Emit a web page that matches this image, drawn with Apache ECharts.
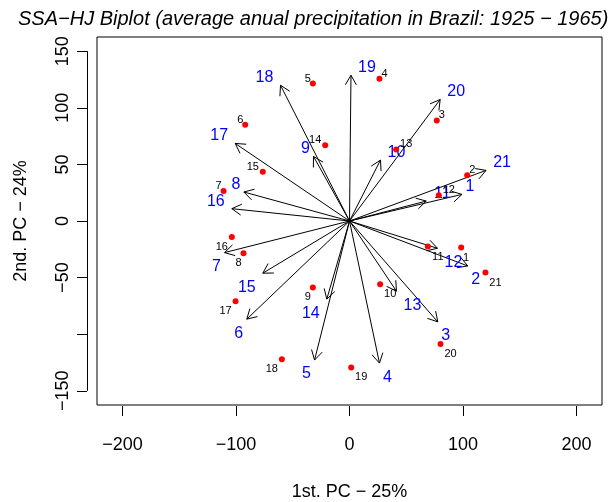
<!DOCTYPE html>
<html>
<head>
<meta charset="utf-8">
<script src="https://cdn.jsdelivr.net/npm/echarts@6/dist/echarts.min.js"></script>
<style>
html,body{margin:0;padding:0;background:#fff;}
#chart{width:614px;height:502px;}
</style>
</head>
<body>
<div id="chart"></div>
<script>
// ---- data ----
const varNames = ['1','2','3','4','5','6','7','8','9','10','11','12','13','14','15','16','17','18','19','20','21'];
const varTipX = [99.1, 104.2, 77.8, 26.4, -30.8, -90.5, -110.1, -93.1, -31.7, 27.3, 67.6, 77.5, 41.4, -20.0, -76.4, -103.7, -100.7, -60.8, 1.3, 79.9, 120.3];
const varTipY = [23.5, -39.7, -89.1, -125.5, -122.8, -86.7, -27.9, 25.6, 57.0, 53.8, 17.6, -24.1, -62.0, -69.0, -46.1, 10.9, 68.5, 119.9, 128.7, 107.3, 44.7];

const obsNames = ['1','2','3','4','5','6','7','8','9','10','11','12','13','14','15','16','17','18','19','20','21'];
const obsX = [98.4, 103.7, 76.9, 26.4, -32.3, -91.9, -111.0, -93.4, -32.3, 27.0, 69.0, 78.7, 41.1, -21.4, -76.4, -103.7, -100.4, -59.6, 1.5, 80.2, 119.8];
const obsY = [-23.5, 40.3, 88.8, 125.6, 121.4, 85.0, 26.5, -28.5, -58.7, -55.8, -22.6, 22.7, 63.2, 66.8, 43.4, -14.1, -70.8, -122.0, -129.3, -108.7, -45.5];

const xTicks = [-200, -100, 0, 100, 200];
const yTicks = [-150, -100, -50, 0, 50, 100, 150];
const yTickLabels = [-150, -50, 0, 50, 100, 150];

const titleText = 'SSA\u2212HJ Biplot (average anual precipitation in Brazil: 1925 \u2212 1965)';
const xName = '1st. PC \u2212 25%';
const yName = '2nd. PC \u2212 24%';

// ---- layout / style ----
const X_MIN = -222.5, X_MAX = 222.5, Y_MIN = -162.5, Y_MAX = 162.5;
const FONT = 'Liberation Sans, Arial, Helvetica, sans-serif';
const fmt = v => (v < 0 ? '\u2212' + Math.abs(v) : String(v));

const chart = echarts.init(document.getElementById('chart'), null, {renderer: 'canvas'});

function renderArrow(params, api) {
  const x = api.value(0), y = api.value(1);
  const o = api.coord([0, 0]);
  const t = api.coord([x, y]);
  const ang = Math.atan2(t[1] - o[1], t[0] - o[0]);
  const L = 11, a = Math.PI / 6;
  const p1 = [t[0] - L * Math.cos(ang - a), t[1] - L * Math.sin(ang - a)];
  const p2 = [t[0] - L * Math.cos(ang + a), t[1] - L * Math.sin(ang + a)];
  const name = varNames[params.dataIndex];
  const fs = 16;
  const w = name.length * 0.556 * fs;
  const sx = x >= 0 ? 1 : -1;
  const dy = y >= 0 ? -7.5 : 14;
  return {
    type: 'group',
    children: [
      {type: 'line', shape: {x1: o[0], y1: o[1], x2: t[0], y2: t[1]}, style: {stroke: '#000', lineWidth: 1}},
      {type: 'polyline', shape: {points: [p1, t, p2]}, style: {stroke: '#000', lineWidth: 1, fill: null}},
      {type: 'text', style: {text: name, x: t[0] + sx * 0.9 * w, y: t[1] + dy, fill: '#0000ff',
        fontSize: fs, fontFamily: FONT, align: 'center', verticalAlign: 'middle'}}
    ]
  };
}

function renderObs(params, api) {
  const x = api.value(0), y = api.value(1);
  const p = api.coord([x, y]);
  const name = obsNames[params.dataIndex];
  const fs = 11;
  const w = name.length * 0.556 * fs;
  const sx = x >= 0 ? 1 : -1;
  const dy = y >= 0 ? -5 : 10;
  return {
    type: 'group',
    children: [
      {type: 'circle', shape: {cx: p[0], cy: p[1], r: 3}, style: {fill: '#ff0000', stroke: null}},
      {type: 'text', style: {text: name, x: p[0] + sx * 0.82 * w, y: p[1] + dy, fill: '#000',
        fontSize: fs, fontFamily: FONT, align: 'center', verticalAlign: 'middle'}}
    ]
  };
}

function renderYAxisLine(params, api) {
  const a = api.coord([X_MIN, yTicks[yTicks.length - 1]]);
  const b = api.coord([X_MIN, yTicks[0]]);
  const xx = Math.round(a[0]) - 10 + 0.5;
  return {type: 'line', shape: {x1: xx, y1: a[1], x2: xx, y2: b[1]}, style: {stroke: '#000', lineWidth: 1}};
}

const option = {
  backgroundColor: '#fff',
  animation: false,
  title: {
    text: titleText, left: 13, top: 4,
    textStyle: {fontFamily: FONT, fontStyle: 'italic', fontWeight: 'normal', fontSize: 20, color: '#000'}
  },
  grid: {left: 97, right: 12, top: 37, bottom: 97, show: true, borderColor: '#000', borderWidth: 1,
    backgroundColor: 'transparent', containLabel: false, outerBoundsMode: 'none'},
  xAxis: {
    type: 'value', min: X_MIN, max: X_MAX, offset: 1,
    splitLine: {show: false},
    axisLine: {show: false, onZero: false},
    axisTick: {show: true, length: 10, inside: false, lineStyle: {color: '#000', width: 1}, customValues: xTicks},
    axisLabel: {show: true, customValues: xTicks, formatter: fmt, color: '#000', fontSize: 18, fontFamily: FONT, margin: 30},
    name: xName, nameLocation: 'middle', nameGap: 77,
    nameTextStyle: {color: '#000', fontSize: 18, fontFamily: FONT}
  },
  yAxis: {
    type: 'value', min: Y_MIN, max: Y_MAX, offset: 10,
    splitLine: {show: false},
    axisLine: {show: false, onZero: false},
    axisTick: {show: true, length: 10, inside: false, lineStyle: {color: '#000', width: 1}, customValues: yTicks},
    axisLabel: {show: true, customValues: yTickLabels, formatter: fmt, rotate: 90, color: '#000', fontSize: 18, fontFamily: FONT, margin: 15},
    name: yName, nameLocation: 'middle', nameGap: 57, nameRotate: 90,
    nameTextStyle: {color: '#000', fontSize: 18, fontFamily: FONT}
  },
  series: [
    {type: 'custom', renderItem: renderYAxisLine, data: [[0, 0]], clip: false, silent: true},
    {type: 'custom', renderItem: renderArrow, data: varTipX.map((v, i) => [v, varTipY[i]]), clip: false, silent: true},
    {type: 'custom', renderItem: renderObs, data: obsX.map((v, i) => [v, obsY[i]]), clip: false, silent: true}
  ]
};
chart.setOption(option);
</script>
</body>
</html>
